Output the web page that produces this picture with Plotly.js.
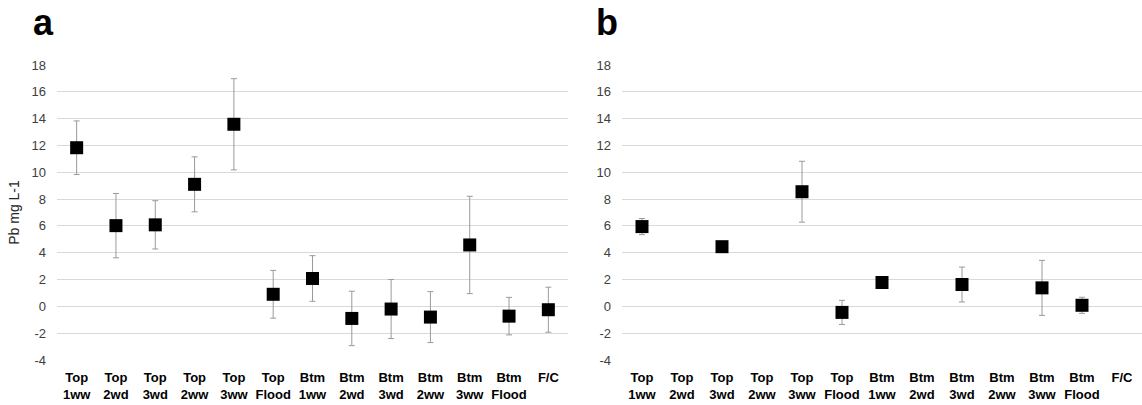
<!DOCTYPE html>
<html>
<head>
<meta charset="utf-8">
<script src="https://cdn.plot.ly/plotly-3.0.1.min.js"></script>
<style>
html,body{margin:0;padding:0;background:#fff;}
#chart{width:1142px;height:405px;}
</style>
</head>
<body>
<div id="chart"></div>
<script>
// Category labels (x axis)
var categories = ['Top<br>1ww','Top<br>2wd','Top<br>3wd','Top<br>2ww','Top<br>3ww','Top<br>Flood',
                  'Btm<br>1ww','Btm<br>2wd','Btm<br>3wd','Btm<br>2ww','Btm<br>3ww','Btm<br>Flood','F/C'];
// Panel a: Pb mg L-1 means and error (±)
var valuesA = [11.83, 6.02, 6.08, 9.1, 13.58, 0.9, 2.08, -0.9, -0.2, -0.8, 4.58, -0.73, -0.25];
var errorsA = [2.0, 2.4, 1.8, 2.05, 3.4, 1.78, 1.7, 2.03, 2.2, 1.9, 3.63, 1.4, 1.68];
// Panel b: means and error (±); null = no value
var valuesB = [5.95, null, 4.45, null, 8.55, -0.45, 1.78, null, 1.63, null, 1.38, 0.08, null];
var errorsB = [0.6, null, 0, null, 2.27, 0.9, 0, null, 1.3, null, 2.05, 0.6, null];
// Y tick values
var yTicks = [-4,-2,0,2,4,6,8,10,12,14,16,18];

var W = 1142, H = 405;
var L = 57, R = 0, T = 65, B = 45;
var pw = W - L - R, ph = H - T - B;
function px(x){ return (x - L) / pw; }
function py(y){ return (H - B - y) / ph; }

var markerStyle = {symbol:'square', size:13, color:'#000000'};
var errStyle = {color:'#9a9a9a', thickness:1, width:3};

var traceA = {
  x: categories, y: valuesA, type:'scatter', mode:'markers',
  marker: markerStyle,
  error_y: Object.assign({type:'data', array: errorsA, visible:true}, errStyle),
  xaxis:'x', yaxis:'y', showlegend:false, hoverinfo:'x+y'
};
var traceB = {
  x: categories, y: valuesB, type:'scatter', mode:'markers',
  marker: markerStyle,
  error_y: Object.assign({type:'data', array: errorsB, visible:true}, errStyle),
  xaxis:'x2', yaxis:'y2', showlegend:false, hoverinfo:'x+y'
};

var xCommon = {
  type:'category', categoryorder:'array', categoryarray: categories,
  range:[-0.5, 12.5], showgrid:false, zeroline:false, showline:false, ticks:'',
  tickfont:{family:'Liberation Sans, Arial, sans-serif', size:13, color:'#000000', weight:'bold'},
  tickangle:0, ticklabelstandoff:8, fixedrange:true
};
var yCommon = {
  range:[-4, 18], tickvals: yTicks, ticktext: yTicks.map(String),
  showgrid:true, gridcolor:'#d9d9d9', gridwidth:1, zeroline:false, showline:false, ticks:'',
  tickfont:{family:'Liberation Sans, Arial, sans-serif', size:13, color:'#404040'},
  ticklabelstandoff:10, fixedrange:true
};

var layout = {
  width: W, height: H,
  margin:{l:L, r:R, t:T, b:B, pad:0},
  paper_bgcolor:'#ffffff', plot_bgcolor:'#ffffff',
  font:{family:'Liberation Sans, Arial, sans-serif'},
  xaxis: Object.assign({}, xCommon, {domain:[0, px(568)], anchor:'y'}),
  xaxis2: Object.assign({}, xCommon, {domain:[px(622), 1], anchor:'y2'}),
  yaxis: Object.assign({}, yCommon, {domain:[0,1], anchor:'x',
    title:{text:'Pb mg L-1', font:{size:14, color:'#262626', family:'Liberation Sans, Arial, sans-serif'}, standoff:8}}),
  yaxis2: Object.assign({}, yCommon, {domain:[0,1], anchor:'x2'}),
  annotations:[
    {text:'<b>a</b>', xref:'paper', yref:'paper', x:px(31), y:py(22), xanchor:'left', yanchor:'middle',
     showarrow:false, font:{family:'Liberation Sans, Arial, sans-serif', size:36, color:'#000000'}},
    {text:'<b>b</b>', xref:'paper', yref:'paper', x:px(594), y:py(22), xanchor:'left', yanchor:'middle',
     showarrow:false, font:{family:'Liberation Sans, Arial, sans-serif', size:36, color:'#000000'}}
  ]
};

Plotly.newPlot('chart', [traceA, traceB], layout, {displayModeBar:false, staticPlot:true});
</script>
</body>
</html>
